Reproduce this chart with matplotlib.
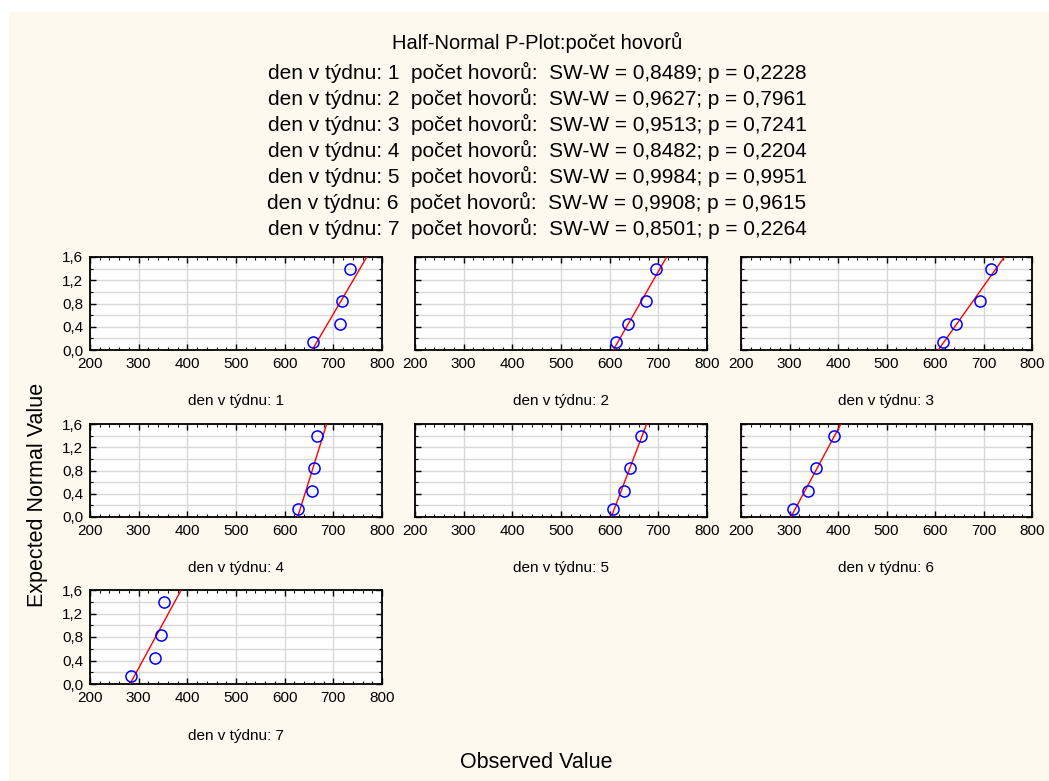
import numpy as np
import matplotlib
matplotlib.use("Agg")
import matplotlib.pyplot as plt
from matplotlib.ticker import MultipleLocator, FuncFormatter
from matplotlib.patches import Rectangle

plt.rcParams['font.family'] = ['Liberation Sans', 'DejaVu Sans']

# data
days = [1, 2, 3, 4, 5, 6, 7]
sw_w = ["0,8489", "0,9627", "0,9513", "0,8482", "0,9984", "0,9908", "0,8501"]
p_val = ["0,2228", "0,7961", "0,7241", "0,2204", "0,9951", "0,9615", "0,2264"]
expected = [0.13, 0.45, 0.84, 1.40]
observed = [
    [658, 713, 718, 735],
    [614, 638, 675, 696],
    [616, 643, 693, 715],
    [628, 657, 661, 666],
    [606, 629, 641, 665],
    [308, 339, 354, 392],
    [284, 333, 345, 352],
]

W, H = 1049, 781
fig = plt.figure(figsize=(W / 100, H / 100), dpi=100, facecolor='white')
fig.patches.append(Rectangle((9 / W, 0), 1, 1 - 12 / H, transform=fig.transFigure,
                             facecolor='#fef9ee', edgecolor='none', zorder=-10))

# titles
fig.text(537 / W, 1 - 42 / H, "Half-Normal P-Plot:počet hovorů", ha='center', va='center', fontsize=14.5)
for i, d in enumerate(days):
    s = "den v týdnu: %d  počet hovorů:  SW-W = %s; p = %s" % (d, sw_w[i], p_val[i])
    fig.text(537 / W, 1 - (72 + 26 * i) / H, s, ha='center', va='center', fontsize=15)

cols = [(90, 382), (415, 707), (741, 1032)]
rows = [(257, 350), (424, 517), (590, 684)]

comma = FuncFormatter(lambda v, pos: ("%.1f" % v).replace('.', ','))

for k, d in enumerate(days):
    r, c = divmod(k, 3)
    x0, x1 = cols[c]
    y0, y1 = rows[r]
    ax = fig.add_axes([x0 / W, 1 - y1 / H, (x1 - x0) / W, (y1 - y0) / H])
    ax.set_facecolor('white')
    x = np.array(observed[k], dtype=float)
    y = np.array(expected)
    b, a = np.polyfit(x, y, 1)
    xl = np.array([(0 - a) / b, (1.6 - a) / b])
    ax.plot(xl, a + b * xl, color='red', lw=1, zorder=3)
    ax.plot(x, y, 'o', mfc='none', mec='blue', ms=8, mew=1.1, zorder=4, clip_on=False)
    ax.set_xlim(200, 800)
    ax.set_ylim(0, 1.6)
    ax.xaxis.set_major_locator(MultipleLocator(100))
    ax.xaxis.set_minor_locator(MultipleLocator(20))
    ax.yaxis.set_major_locator(MultipleLocator(0.4))
    ax.yaxis.set_minor_locator(MultipleLocator(0.2))
    ax.yaxis.set_major_formatter(comma)
    ax.grid(True, which='major', axis='x', color='#d8d8d8', lw=1)
    ax.grid(True, which='both', axis='y', color='#d8d8d8', lw=1)
    ax.set_axisbelow(True)
    ax.tick_params(which='both', direction='in', top=True, right=True, labelsize=11,
                   colors='black', pad=5)
    ax.tick_params(which='major', length=4, width=1)
    ax.tick_params(which='minor', length=2.5, width=0.8)
    if c != 0:
        ax.set_yticklabels([])
    for sp in ax.spines.values():
        sp.set_linewidth(1.3)
    ax.text(0.5, -0.55, "den v týdnu: %d" % d, transform=ax.transAxes, ha='center',
            va='center', fontsize=11)

fig.text(536 / W, 1 - 762 / H, "Observed Value", ha='center', va='center', fontsize=15.5)
fig.text(38 / W, 1 - 495 / H, "Expected Normal Value", ha='center', va='center',
         rotation=90, fontsize=15.5)

fig.savefig("out.png", dpi=100, facecolor=fig.get_facecolor())
